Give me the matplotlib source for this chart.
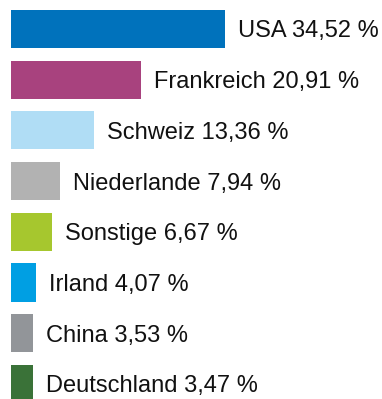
import matplotlib
matplotlib.use("Agg")
import matplotlib.pyplot as plt

# Anteile nach Ländern (in %)
countries = ["USA", "Frankreich", "Schweiz", "Niederlande", "Sonstige",
             "Irland", "China", "Deutschland"]
shares = [34.52, 20.91, 13.36, 7.94, 6.67, 4.07, 3.53, 3.47]
colors = ["#0072BC", "#A8427E", "#B0DDF5", "#B2B2B2", "#A6C72E",
          "#009FE3", "#929599", "#3A7238"]

plt.rcParams["font.family"] = ["Liberation Sans", "DejaVu Sans"]

fig = plt.figure(figsize=(3.82, 3.99), dpi=100)
ax = fig.add_axes([11 / 382, 0, 1 - 11 / 382, 1])

pos = list(range(len(countries)))
ax.barh(pos, shares, height=0.75, color=colors)

for y, name, val in zip(pos, countries, shares):
    label = f"{name} {val:.2f} %".replace(".", ",")
    ax.text(val + 2.1, y, label, va="center_baseline", ha="left",
            fontsize=17, color="#111111")

ax.set_xlim(0, 371 / 6.2)
ax.set_ylim(7.298, -0.572)
ax.axis("off")

fig.savefig("out.png", dpi=100)
